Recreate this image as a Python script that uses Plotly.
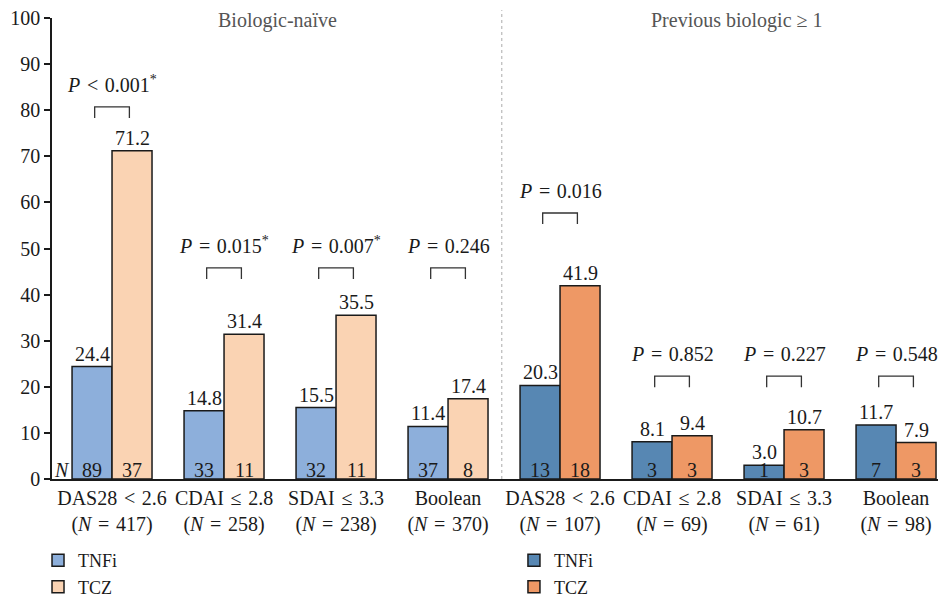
import plotly.graph_objects as go

# ---- data ----
SP = "\u2004"
categories = [f"DAS28{SP}<{SP}2.6", f"CDAI{SP}≤{SP}2.8", f"SDAI{SP}≤{SP}3.3", "Boolean",
              f"DAS28{SP}<{SP}2.6", f"CDAI{SP}≤{SP}2.8", f"SDAI{SP}≤{SP}3.3", "Boolean"]
group_n = [417, 258, 238, 370, 107, 69, 61, 98]
tnfi_naive = [24.4, 14.8, 15.5, 11.4]
tcz_naive = [71.2, 31.4, 35.5, 17.4]
tnfi_prev = [20.3, 8.1, 3.0, 11.7]
tcz_prev = [41.9, 9.4, 10.7, 7.9]
tnfi_counts = [89, 33, 32, 37, 13, 3, 1, 7]
tcz_counts = [37, 11, 11, 8, 18, 3, 3, 3]
p_labels = [f"<i>P</i>{SP}<{SP}0.001<sup>*</sup>", f"<i>P</i>{SP}={SP}0.015<sup>*</sup>",
            f"<i>P</i>{SP}={SP}0.007<sup>*</sup>", f"<i>P</i>{SP}={SP}0.246",
            f"<i>P</i>{SP}={SP}0.016", f"<i>P</i>{SP}={SP}0.852",
            f"<i>P</i>{SP}={SP}0.227", f"<i>P</i>{SP}={SP}0.548"]
panel_titles = ["Biologic-naïve", "Previous biologic ≥ 1"]

# ---- layout config ----
bracket_levels = [80.7, 45.8, 45.8, 45.8, 57.7, 22.3, 22.3, 22.3]
FONT = "Liberation Serif"
FS = 20
C_TNFI_L, C_TCZ_L = "#8DAFDB", "#FAD3B3"
C_TNFI_D, C_TCZ_D = "#5787B3", "#EE9865"
W = 0.357

xs = list(range(8))
fig = go.Figure()

def add_bar(xv, yv, color, name, legend):
    fig.add_trace(go.Bar(
        x=xv, y=yv, width=W, offset=-W if "TNFi" in name else 0,
        marker=dict(color=color, line=dict(color="#1a1a1a", width=1.5)),
        name=name, legend=legend, hoverinfo="skip"))

add_bar(xs[:4], tnfi_naive, C_TNFI_L, "TNFi", "legend")
add_bar(xs[:4], tcz_naive, C_TCZ_L, "TCZ", "legend")
add_bar(xs[4:], tnfi_prev, C_TNFI_D, "TNFi", "legend2")
add_bar(xs[4:], tcz_prev, C_TCZ_D, "TCZ", "legend2")

tnfi_all = tnfi_naive + tnfi_prev
tcz_all = tcz_naive + tcz_prev
ann = []
tf = dict(family=FONT, size=FS, color="#1a1a1a")
for i in xs:
    for off, v, c in ((-W / 2, tnfi_all[i], tnfi_counts[i]), (W / 2, tcz_all[i], tcz_counts[i])):
        ann.append(dict(x=i + off, y=v, text=f"{v:.1f}", showarrow=False,
                        yanchor="bottom", yshift=0, font=tf))
        ann.append(dict(x=i + off, y=0, text=str(c), showarrow=False,
                        yanchor="bottom", yshift=-4, font=tf))
    lvl = bracket_levels[i]
    fig.add_shape(type="path", xref="x", yref="y",
                  path=f"M {i-0.155},{lvl-2.4} L {i-0.155},{lvl} L {i+0.155},{lvl} L {i+0.155},{lvl-2.4}",
                  line=dict(color="#333", width=1.3))
    ann.append(dict(x=i, y=lvl + 2.0, text=p_labels[i], showarrow=False,
                    yanchor="bottom", font=tf))

ann.append(dict(x=-0.446, y=0, text="<i>N</i>", showarrow=False,
                yanchor="bottom", yshift=-4, font=tf))
ann.append(dict(x=1.473, y=100, text=panel_titles[0], showarrow=False,
                yanchor="middle", yshift=-2, font=dict(family=FONT, size=FS, color="#555")))
ann.append(dict(x=5.58, y=100, text=panel_titles[1], showarrow=False,
                yanchor="middle", yshift=-2, font=dict(family=FONT, size=FS, color="#555")))

fig.add_shape(type="line", xref="x", yref="paper", x0=3.48, x1=3.48, y0=0, y1=1.017,
              line=dict(color="#aaa", width=1, dash="dot"))

ticktext = [f"{c}<br>(<i>N</i>{SP}={SP}{n})" for c, n in zip(categories, group_n)]

fig.update_layout(
    width=938, height=591,
    margin=dict(l=44, r=0, t=10, b=120, autoexpand=False),
    plot_bgcolor="white", paper_bgcolor="white",
    font=dict(family=FONT, size=FS, color="#1a1a1a"),
    barmode="overlay",
    annotations=ann,
    xaxis=dict(range=[-0.536, 7.446], tickvals=xs, ticktext=ticktext, tickangle=0,
               showline=True, linecolor="#1a1a1a", linewidth=1.5,
               ticks="", showgrid=False, zeroline=False, fixedrange=True,
               ticklabeloverflow="allow"),
    yaxis=dict(range=[0, 100], dtick=10, showline=True, linecolor="#1a1a1a",
               linewidth=1.5, ticks="outside", ticklen=6, tickwidth=1.5,
               tickcolor="#1a1a1a", showgrid=False, zeroline=False,
               ticklabeloverflow="allow"),
    legend=dict(xref="container", yref="container", x=0.032, y=0.0964,
                xanchor="left", yanchor="top",
                font=dict(family=FONT, size=18), bgcolor="rgba(0,0,0,0)"),
    legend2=dict(xref="container", yref="container", x=0.5394, y=0.0964,
                 xanchor="left", yanchor="top",
                 font=dict(family=FONT, size=18), bgcolor="rgba(0,0,0,0)"),
    showlegend=True,
)

fig.write_html("out.html")
